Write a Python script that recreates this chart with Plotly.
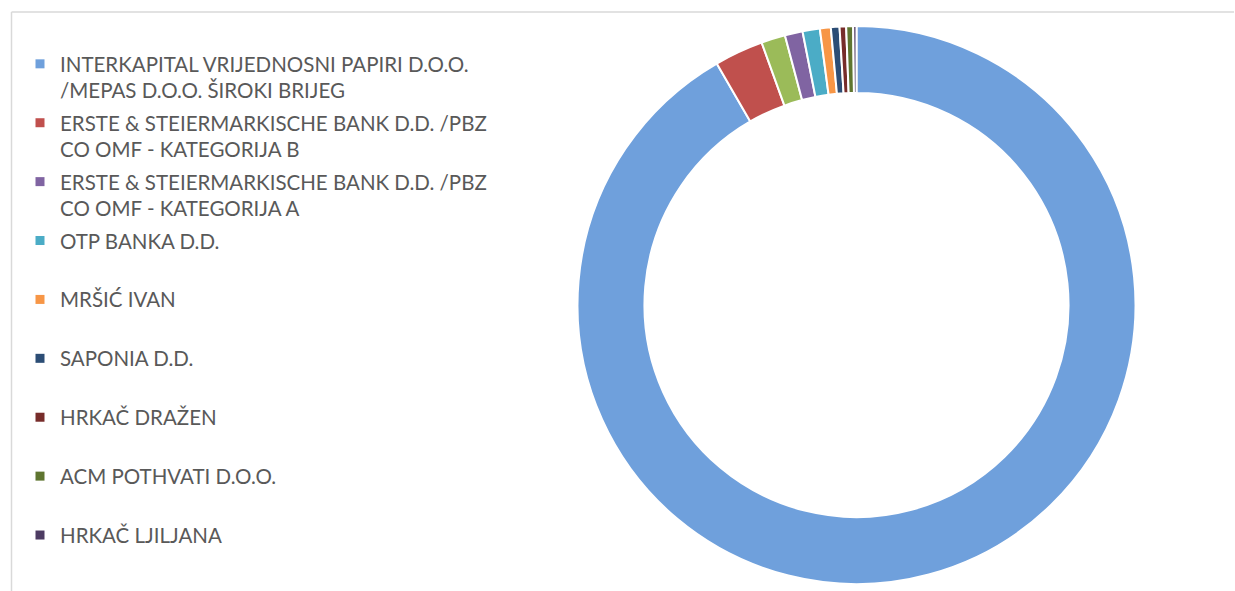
import plotly.graph_objects as go

# ---- data ----
slice_labels = [
    "INTERKAPITAL VRIJEDNOSNI PAPIRI D.O.O. /MEPAS D.O.O. ŠIROKI BRIJEG",
    "ERSTE & STEIERMARKISCHE BANK D.D. /PBZ CO OMF - KATEGORIJA B",
    "Ostalo",
    "ERSTE & STEIERMARKISCHE BANK D.D. /PBZ CO OMF - KATEGORIJA A",
    "OTP BANKA D.D.",
    "MRŠIĆ IVAN",
    "SAPONIA D.D.",
    "HRKAČ DRAŽEN",
    "ACM POTHVATI D.O.O.",
    "HRKAČ LJILJANA",
]
slice_values = [91.65, 2.83, 1.39, 1.03, 1.00, 0.63, 0.50, 0.38, 0.40, 0.19]
slice_colors = ["#6FA0DC", "#C0504D", "#9BBB59", "#8064A2", "#4BACC6",
                "#F79646", "#2C4D75", "#772C2A", "#5F7530", "#4D3B62"]

legend_names = [
    "INTERKAPITAL VRIJEDNOSNI PAPIRI D.O.O.<br>/MEPAS D.O.O. ŠIROKI BRIJEG",
    "ERSTE & STEIERMARKISCHE BANK D.D. /PBZ<br>CO OMF - KATEGORIJA B",
    "ERSTE & STEIERMARKISCHE BANK D.D. /PBZ<br>CO OMF - KATEGORIJA A",
    "OTP BANKA D.D.<br> ",
    "MRŠIĆ IVAN<br> ",
    "SAPONIA D.D.<br> ",
    "HRKAČ DRAŽEN<br> ",
    "ACM POTHVATI D.O.O.<br> ",
    "HRKAČ LJILJANA<br> ",
]
legend_colors = ["#6FA0DC", "#C0504D", "#8064A2", "#4BACC6", "#F79646",
                 "#2C4D75", "#772C2A", "#5F7530", "#4D3B62"]

W, H = 1235, 591
fig = go.Figure()

fig.add_trace(go.Pie(
    labels=slice_labels,
    values=slice_values,
    sort=False,
    direction="clockwise",
    rotation=0,
    hole=0.76,
    marker=dict(colors=slice_colors, line=dict(color="white", width=2)),
    textinfo="none",
    showlegend=False,
    domain=dict(x=[577.5 / W, 1135.5 / W], y=[(H - 584) / H, (H - 26) / H]),
))

for i, (nm, col) in enumerate(zip(legend_names, legend_colors)):
    fig.add_trace(go.Scatter(
        x=[None], y=[None], mode="markers", name=nm,
        legendgroup=f"g{i}",
        marker=dict(symbol="square", size=9, color=col),
        hoverinfo="skip",
    ))

fig.update_layout(
    width=W, height=H,
    margin=dict(l=0, r=0, t=0, b=0),
    paper_bgcolor="white",
    plot_bgcolor="white",
    xaxis=dict(visible=False),
    yaxis=dict(visible=False),
    font=dict(family="Lato", color="#595959"),
    legend=dict(
        x=20 / W, y=1 - 44 / H, xanchor="left", yanchor="top",
        font=dict(family="Lato", size=20.5, color="#595959"),
        valign="top",
        tracegroupgap=2.6,
        bgcolor="rgba(0,0,0,0)",
        borderwidth=0,
    ),
    shapes=[
        dict(type="line", xref="paper", yref="paper",
             x0=11.5 / W, x1=1234 / W, y0=1 - 12 / H, y1=1 - 12 / H,
             line=dict(color="#D9D9D9", width=1.5)),
        dict(type="line", xref="paper", yref="paper",
             x0=11.5 / W, x1=11.5 / W, y0=1 - 12 / H, y1=0,
             line=dict(color="#D9D9D9", width=1.5)),
    ],
)

fig.write_html("out.html", config={"displayModeBar": False},
               post_script="document.body.style.margin='0';")
